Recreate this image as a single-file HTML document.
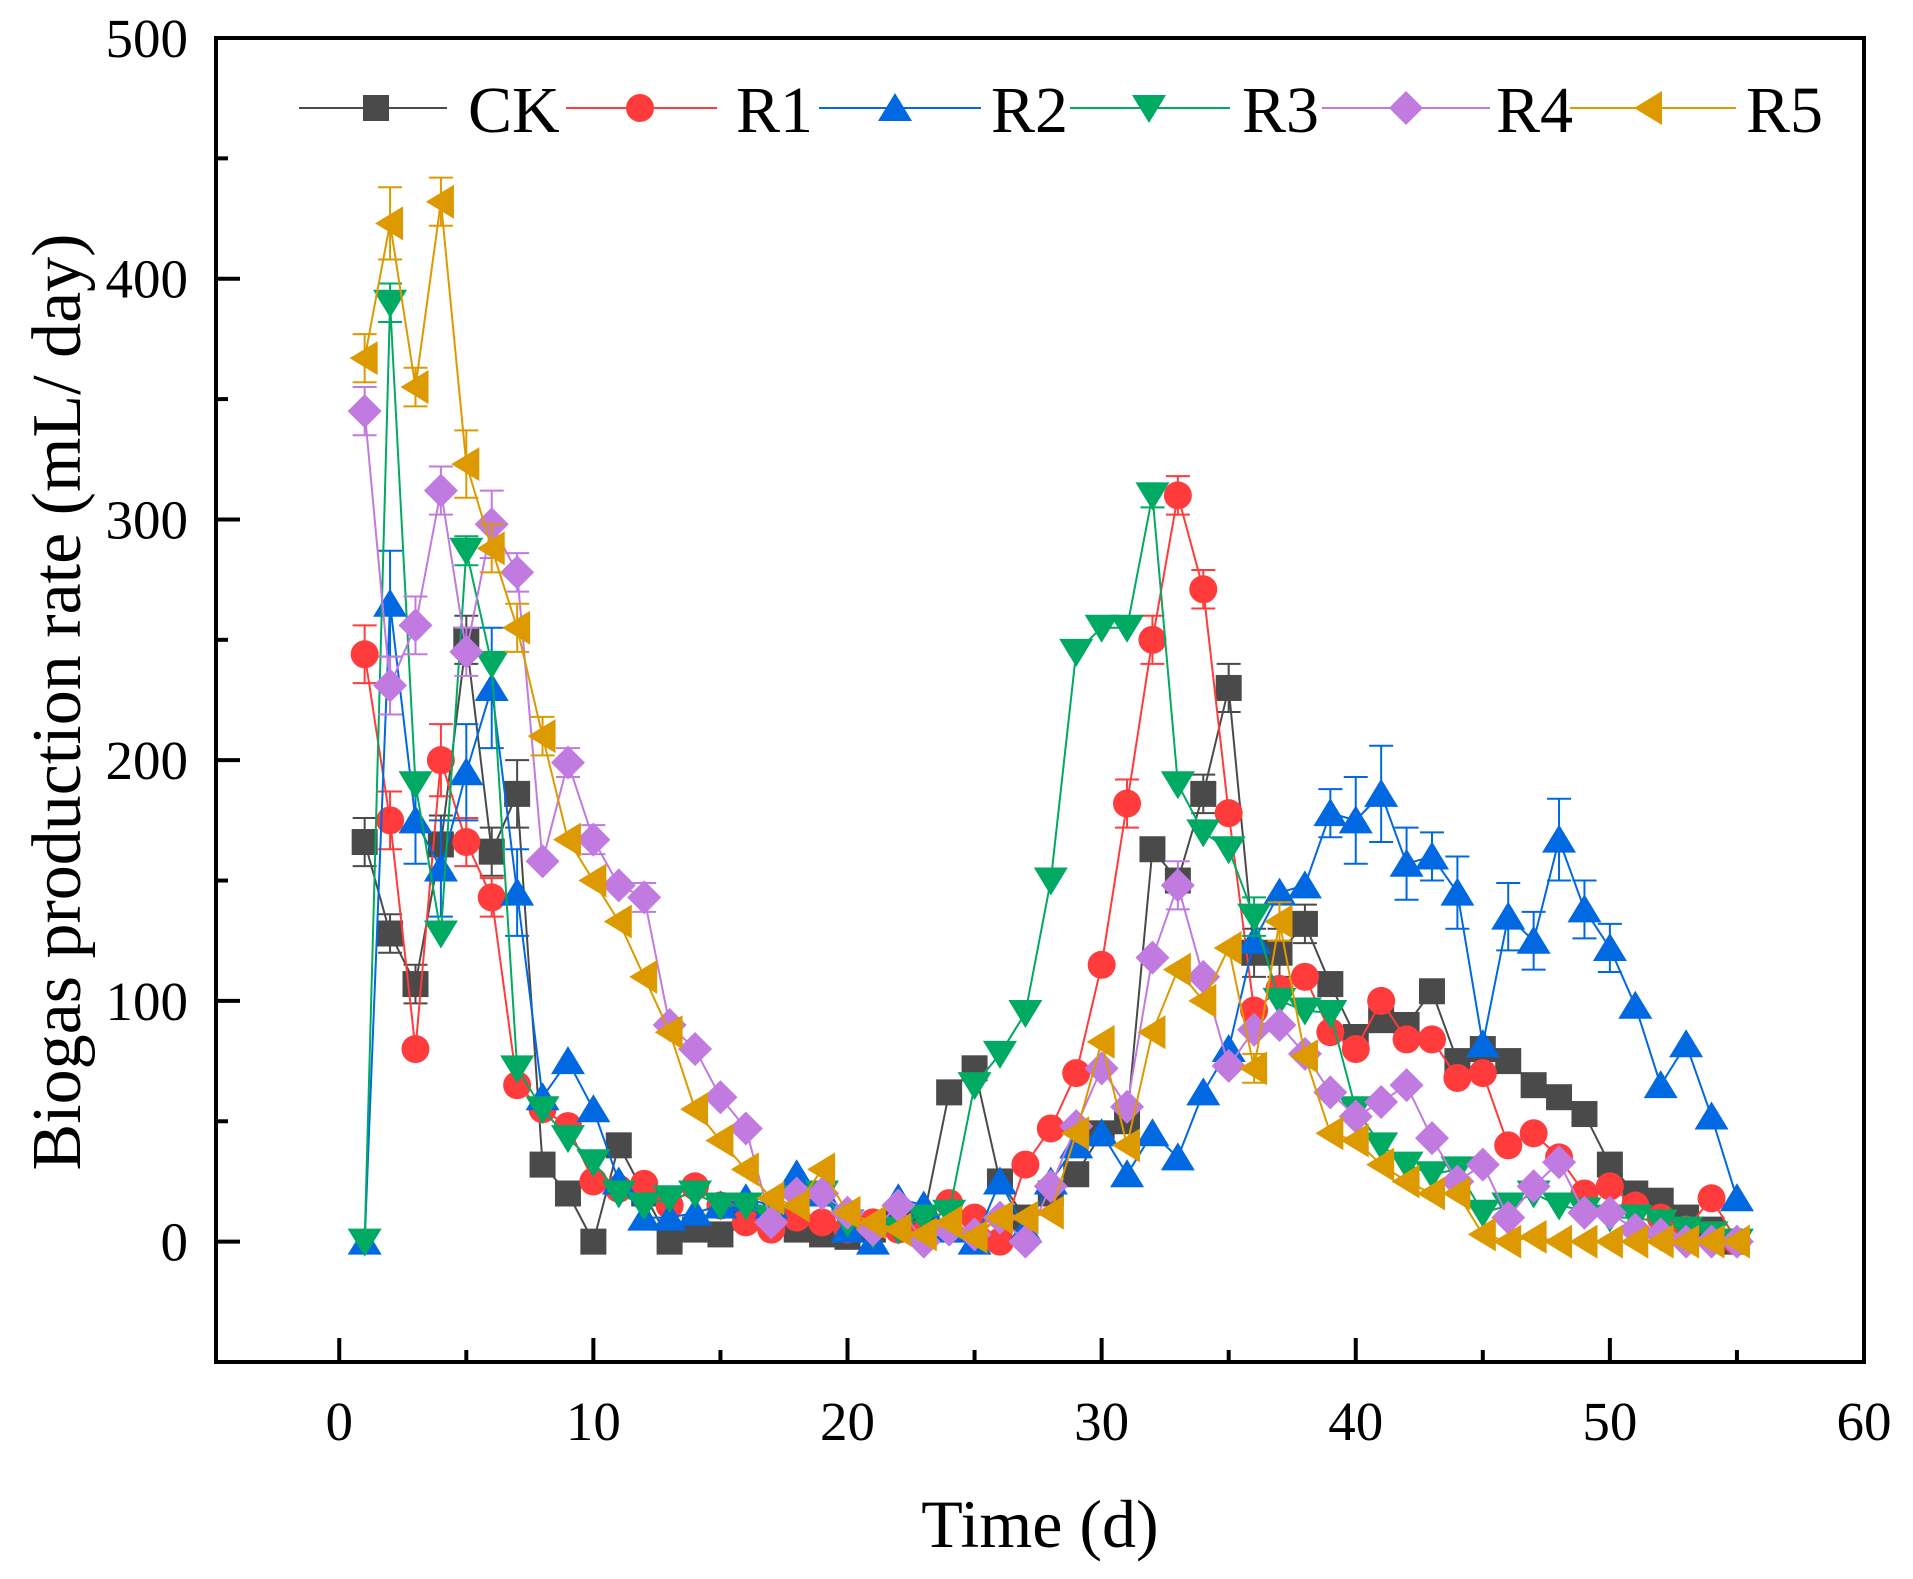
<!DOCTYPE html>
<html><head><meta charset="utf-8"><style>
html,body{margin:0;padding:0;background:#fff;}
svg{display:block;font-family:"Liberation Serif",serif;}
</style></head><body>
<svg id="chart" width="1913" height="1579" viewBox="0 0 1913 1579" xmlns="http://www.w3.org/2000/svg">
<g id="plot"></g>
<g id="axes"></g>
<g id="legend"></g>
</svg>
<script>
const days = [1,2,3,4,5,6,7,8,9,10,11,12,13,14,15,16,17,18,19,20,21,22,23,24,25,26,27,28,29,30,31,32,33,34,35,36,37,38,39,40,41,42,43,44,45,46,47,48,49,50,51,52,53,54,55];
const seriesNames = ["CK","R1","R2","R3","R4","R5"];
const ckValues = [166,128,107,165,250,162,186,32,20,0,40,20,0,5,3,10,10,5,3,2,5,10,10,62,72,25,10,20,28,45,50,163,150,186,230,120,120,132,107,85,92,90,104,75,80,75,65,60,53,32,20,17,10,5,0];
const r1Values = [244,175,80,200,166,143,65,55,48,25,22,24,15,23,15,8,5,10,8,5,8,5,3,16,10,0,32,47,70,115,182,250,310,271,178,96,105,110,87,80,100,84,84,68,70,40,45,35,20,23,15,10,5,18,0];
const r2Values = [0,265,175,155,195,230,145,60,75,55,25,10,10,12,15,18,15,28,20,5,0,18,15,5,0,25,5,25,40,45,28,45,35,62,80,125,145,148,178,175,186,157,160,145,82,135,125,167,138,122,98,65,82,52,18];
const r3Values = [0,390,190,128,287,240,72,55,43,33,20,15,18,20,15,15,10,18,20,8,3,5,10,12,65,78,95,150,245,255,255,310,190,170,163,135,100,96,95,55,40,32,28,30,12,15,20,15,13,10,10,8,5,3,0];
const r4Values = [345,231,256,312,245,298,278,158,199,167,148,143,90,80,60,47,8,20,20,12,5,15,0,5,3,10,0,23,48,72,56,118,148,110,73,88,90,78,62,52,58,65,43,25,32,10,23,33,12,12,5,3,0,0,0];
const r5Values = [367,423,355,432,323,288,255,210,167,150,133,110,87,55,42,30,18,15,30,12,8,5,3,8,2,10,10,12,45,83,40,87,113,100,122,72,133,77,45,42,32,25,20,20,3,0,2,0,0,0,0,0,0,0,0];
const ckErr = {1:10,2:8,3:8,4:12,5:10,6:10,7:14,34:8,35:10,36:10,37:10,38:8};
const r1Err = {1:12,2:12,4:15,5:10,6:8,32:10,33:8,34:8,31:10};
const r2Err = {2:22,3:18,4:20,5:20,6:25,7:18,39:10,40:18,41:20,42:15,43:10,44:15,46:14,47:12,48:17,49:12,50:10};
const r3Err = {2:8,5:6,32:5,36:8};
const r4Err = {1:10,2:12,3:12,4:10,5:10,6:14,7:8,9:6,10:6,12:6,33:10};
const r5Err = {1:10,2:15,3:8,4:10,5:14,6:10,7:10,8:8,36:6,37:8};
const xTicks = [0,10,20,30,40,50,60];
const yTicks = [0,100,200,300,400,500];

const X0=216, X1=1864, Y0=38, Y1=1362;
const xMin=-4.85, xMax=60, yMin=-50, yMax=500;
function xs(v){return X0+(v-xMin)/(xMax-xMin)*(X1-X0);}
function ys(v){return Y1-(v-yMin)/(yMax-yMin)*(Y1-Y0);}
const NS="http://www.w3.org/2000/svg";
function mk(tag,attrs,parent){const e=document.createElementNS(NS,tag);for(const k in attrs)e.setAttribute(k,attrs[k]);parent.appendChild(e);return e;}

const colors=["#4a4a4a","#ff3b3b","#0068e0","#00aa62","#c07ae0","#dd9a00"];
const shapes=["square","circle","up","down","diamond","left"];
const allVals=[ckValues,r1Values,r2Values,r3Values,r4Values,r5Values];
const allErr=[ckErr,r1Err,r2Err,r3Err,r4Err,r5Err];

function marker(shape,cx,cy,col,parent){
  const s=15;let e;
  if(shape==="square") e=mk('rect',{x:cx-13,y:cy-13,width:26,height:26,fill:col},parent);
  else if(shape==="circle") e=mk('circle',{cx:cx,cy:cy,r:14,fill:col},parent);
  else {
    let p;
    if(shape==="up") p=[[cx,cy-s],[cx+s+2,cy+s-2],[cx-s-2,cy+s-2]];
    if(shape==="down") p=[[cx,cy+s],[cx+s+2,cy-s+2],[cx-s-2,cy-s+2]];
    if(shape==="diamond") p=[[cx,cy-s-2],[cx+s+2,cy],[cx,cy+s+2],[cx-s-2,cy]];
    if(shape==="left") p=[[cx-s,cy],[cx+s-2,cy-s-2],[cx+s-2,cy+s+2]];
    e=mk('polygon',{points:p.map(q=>q.join(',')).join(' '),fill:col},parent);
  }
  return e;
}

const plot=document.getElementById('plot');
allVals.forEach((vals,si)=>{
  const g=mk('g',{},plot);
  
  
  const col=colors[si];
  const pts=days.map((d,i)=>xs(d)+','+ys(vals[i])).join(' ');
  const ln=mk('polyline',{points:pts,fill:'none',stroke:col,'stroke-width':2},g);
  
  
  const errs=allErr[si];
  days.forEach((d,i)=>{
    const er=errs[d];
    if(er){
      const cx=xs(d);
      const eb=mk('path',{d:`M${cx},${ys(vals[i]-er)}V${ys(vals[i]+er)}M${cx-12},${ys(vals[i]+er)}h24M${cx-12},${ys(vals[i]-er)}h24`,stroke:col,'stroke-width':2,fill:'none'},g);
      
      
    }
  });
  days.forEach((d,i)=>{
    const m=marker(shapes[si],xs(d),ys(vals[i]),col,g);
    
    
  });
});

const axes=document.getElementById('axes');
const frame=mk('rect',{x:X0,y:Y0,width:X1-X0,height:Y1-Y0,fill:'none',stroke:'#000','stroke-width':4},axes);


xTicks.forEach(t=>{
  const x=xs(t);
  const tk=mk('line',{x1:x,y1:Y1,x2:x,y2:Y1-24,stroke:'#000','stroke-width':4},axes);
  
  
  const lb=mk('text',{x:x,y:Y1+78,'font-size':55,'text-anchor':'middle'},axes);
  lb.textContent=t;
  
  
  if(t<60){const m=mk('line',{x1:xs(t+5),y1:Y1,x2:xs(t+5),y2:Y1-12,stroke:'#000','stroke-width':4},axes);
  
  }
});
yTicks.forEach(t=>{
  const y=ys(t);
  const tk=mk('line',{x1:X0,y1:y,x2:X0+24,y2:y,stroke:'#000','stroke-width':4},axes);
  
  
  const lb=mk('text',{x:188,y:y+19,'font-size':55,'text-anchor':'end'},axes);
  lb.textContent=t;
  
  
  const m=mk('line',{x1:X0,y1:ys(t-50),x2:X0+12,y2:ys(t-50),stroke:'#000','stroke-width':4},axes);
  
  
});
const xt=mk('text',{x:1040,y:1547,'font-size':68,'text-anchor':'middle'},axes);
xt.textContent='Time (d)';


const yt=mk('text',{x:0,y:0,'font-size':70,'text-anchor':'middle',transform:'translate(80,702) rotate(-90)'},axes);
yt.textContent='Biogas production rate (mL/ day)';



const legend=document.getElementById('legend');
const legLine=[[299,447],[566,717],[819,981],[1070,1230],[1322,1490],[1570,1736]];
const legMark=[376,640,895,1149,1406,1649];
const legText=[468,736,991,1242,1496,1746];
seriesNames.forEach((n,i)=>{
  const g=mk('g',{},legend);
  
  
  mk('line',{x1:legLine[i][0],y1:108,x2:legLine[i][1],y2:108,stroke:colors[i],'stroke-width':2},g);
  marker(shapes[i],legMark[i],108,colors[i],g);
  const t=mk('text',{x:legText[i],y:132,'font-size':66},g);
  t.textContent=n;
});
</script>
</body></html>
